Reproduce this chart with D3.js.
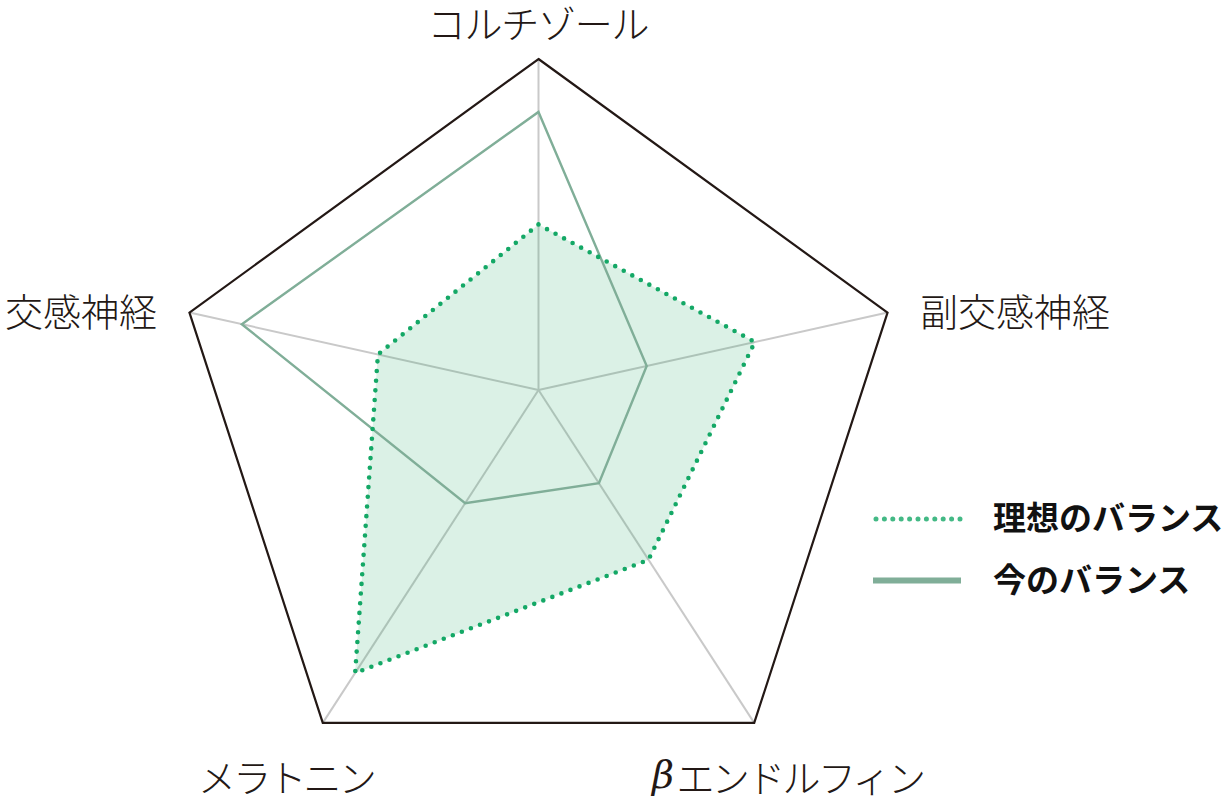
<!DOCTYPE html>
<html lang="ja">
<head>
<meta charset="utf-8">
<script src="https://cdn.jsdelivr.net/npm/d3@7"></script>
<style>
  html, body { margin: 0; padding: 0; background: #fff; }
  svg { display: block; font-family: "Noto Sans CJK JP", "Noto Sans", sans-serif; }
</style>
</head>
<body>
<svg id="chart" width="1224" height="796"></svg>
<script>
/* --------------------------------------------------------------- */
/* ----------------------------- Data ---------------------------- */
var categories = ['コルチゾール', '副交感神経', 'βエンドルフィン', 'メラトニン', '交感神経'];
var idealValues = [50, 62, 51, 85, 46];   // 理想のバランス (dotted, filled)
var currentValues = [84, 31, 28, 34, 85]; // 今のバランス (solid)
var seriesNames = ['理想のバランス', '今のバランス'];
var valueMax = 100;

/* --------------------------------------------------------------- */
/* ---------------------------- Layout --------------------------- */
var config = {
  cx: 538.5,   // pentagon centre
  cy: 426,
  radius: 367,
  hubX: 538.5, // axes meet here (a bit above the pentagon centre)
  hubY: 390,
  ink: '#231815',
  axisColor: '#c9c9c9',
  idealColor: '#14a866',
  idealFill: 'rgba(30, 170, 100, 0.16)',
  currentColor: '#80ae98',
  labelSize: 38,
  legendSize: 33
};

// label placement for each axis: [x, y, anchor, letter-spacing]
var labelPos = [
  [538, 21, 'middle', -1.2],
  [920, 309, 'start', 0],
  [652, 775, 'start', -2.6],
  [286, 775, 'middle', -2.8],
  [157, 309, 'end', 0]
];

var svg = d3.select('#chart');

// vertices of a regular pentagon, first one on top
var angle = d3.scaleLinear()
  .domain([0, categories.length])
  .range([-Math.PI / 2, 1.5 * Math.PI]);

var vertices = categories.map(function (c, i) {
  return [config.cx + config.radius * Math.cos(angle(i)),
          config.cy + config.radius * Math.sin(angle(i))];
});

// value -> fraction of the way from hub to vertex
var rScale = d3.scaleLinear().domain([0, valueMax]).range([0, 1]);

function pointAt(i, v) {
  var t = rScale(v);
  return [config.hubX + (vertices[i][0] - config.hubX) * t,
          config.hubY + (vertices[i][1] - config.hubY) * t];
}

var closedLine = d3.line().curve(d3.curveLinearClosed);

/* --------------------------------------------------------------- */
/* ----------------------------- Axes ---------------------------- */
svg.append('g').selectAll('line')
  .data(categories)
  .join('line')
  .attr('x1', config.hubX)
  .attr('y1', config.hubY)
  .attr('x2', function (d, i) { return pointAt(i, valueMax)[0]; })
  .attr('y2', function (d, i) { return pointAt(i, valueMax)[1]; })
  .attr('stroke', config.axisColor)
  .attr('stroke-width', 2);

/* --------------------------------------------------------------- */
/* ---------------------------- Series --------------------------- */
var idealPts = idealValues.map(function (v, i) { return pointAt(i, v); });
var currentPts = currentValues.map(function (v, i) { return pointAt(i, v); });

svg.append('path')
  .attr('d', closedLine(idealPts))
  .attr('fill', config.idealFill)
  .attr('stroke', 'none');

svg.append('path')
  .attr('d', closedLine(currentPts))
  .attr('fill', 'none')
  .attr('stroke', config.currentColor)
  .attr('stroke-width', 2.4)
  .attr('stroke-linejoin', 'miter');

svg.append('path')
  .attr('d', closedLine(idealPts))
  .attr('fill', 'none')
  .attr('stroke', config.idealColor)
  .attr('stroke-width', 4.6)
  .attr('stroke-linecap', 'round')
  .attr('stroke-dasharray', '0 9.7');

// outer frame
svg.append('path')
  .attr('d', closedLine(vertices))
  .attr('fill', 'none')
  .attr('stroke', config.ink)
  .attr('stroke-width', 2.2)
  .attr('stroke-linejoin', 'miter');

/* --------------------------------------------------------------- */
/* ---------------------------- Labels --------------------------- */
var labels = svg.append('g').selectAll('text')
  .data(categories)
  .join('text')
  .attr('x', function (d, i) { return labelPos[i][0]; })
  .attr('y', function (d, i) { return labelPos[i][1]; })
  .attr('text-anchor', function (d, i) { return labelPos[i][2]; })
  .attr('letter-spacing', function (d, i) { return labelPos[i][3]; })
  .attr('dominant-baseline', 'central')
  .attr('font-size', config.labelSize)
  .attr('font-weight', 300)
  .attr('fill', config.ink);

labels.each(function (d) {
  var t = d3.select(this);
  if (d.charAt(0) === 'β') {
    t.append('tspan').attr('font-family', '"DejaVu Serif", serif')
      .attr('font-style', 'italic').text('β');
    t.append('tspan').attr('dx', 5).text(d.slice(1));
  } else {
    t.text(d);
  }
});

/* --------------------------------------------------------------- */
/* ---------------------------- Legend --------------------------- */
var legend = svg.append('g').attr('transform', 'translate(874, 518)');

legend.append('line')
  .attr('x1', 2).attr('x2', 86).attr('y1', 1).attr('y2', 1)
  .attr('stroke', config.idealColor)
  .attr('stroke-opacity', 0.8)
  .attr('stroke-width', 5)
  .attr('stroke-linecap', 'round')
  .attr('stroke-dasharray', '0 8.4');

legend.append('line')
  .attr('x1', -1).attr('x2', 87).attr('y1', 62.5).attr('y2', 62.5)
  .attr('stroke', config.currentColor)
  .attr('stroke-width', 6);

legend.selectAll('text')
  .data(seriesNames)
  .join('text')
  .attr('x', 119)
  .attr('y', function (d, i) { return -2 + i * 62; })
  .attr('dominant-baseline', 'central')
  .attr('font-size', config.legendSize)
  .attr('font-weight', 700)
  .attr('fill', '#111')
  .text(function (d) { return d; });
</script>
</body>
</html>
